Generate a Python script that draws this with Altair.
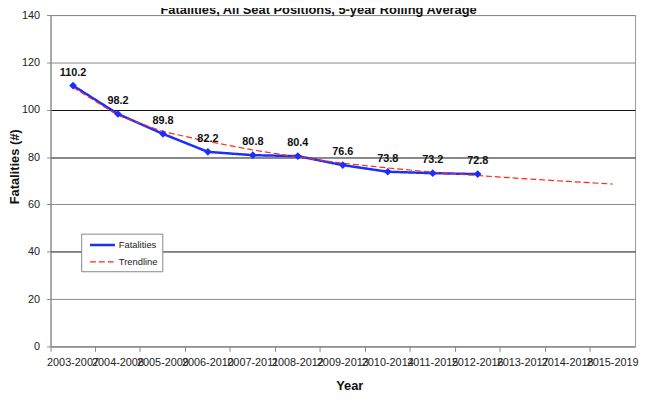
import altair as alt
import pandas as pd

periods = ["2003-2007", "2004-2008", "2005-2009", "2006-2010", "2007-2011",
           "2008-2012", "2009-2013", "2010-2014", "2011-2015", "2012-2016",
           "2013-2017", "2014-2018", "2015-2019"]
fatalities = [110.2, 98.2, 89.8, 82.2, 80.8, 80.4, 76.6, 73.8, 73.2, 72.8]
trendline = [109.5, 97.6, 90.8, 86.6, 83.0, 80.0, 77.4, 75.4, 73.6, 72.2, 70.9, 69.7, 68.6]
series_names = ["Fatalities", "Trendline"]
title_text = "Fatalities, All Seat Positions, 5-year Rolling Average"
y_ticks = [0, 20, 40, 60, 80, 100, 120, 140]

rows = []
for p, v in zip(periods, fatalities):
    rows.append({"period": p, "value": v, "series": "Fatalities", "label": f"{v:.1f}"})
for p, v in zip(periods, trendline):
    rows.append({"period": p, "value": v, "series": "Trendline", "label": ""})
df = pd.DataFrame(rows)

BLUE = "#1a2eff"
RED = "#ff2a1a"
W, H = 591, 335

x_enc = alt.X(
    "period:N",
    sort=periods,
    bandPosition=0.5,
    scale=alt.Scale(type="band", domain=periods, paddingInner=0, paddingOuter=0),
    axis=alt.Axis(
        title="Year", bandPosition=0, labelAngle=0, labelOverlap=False, labelBound=False,
        tickSize=5, tickColor="#888", domainColor="#888", labelFontSize=11,
        labelColor="#222", labelPadding=5, titleFontSize=13, titleFontWeight="bold",
        titleColor="#111", titleX=302, titleY=44, titleBaseline="alphabetic",
    ),
)
y_enc = alt.Y(
    "value:Q",
    scale=alt.Scale(domain=[0, 140], nice=False),
    axis=alt.Axis(
        title="Fatalities (#)", values=y_ticks, grid=True,
        gridColor={"condition": {"test": "indexof([40, 80, 100], datum.value) >= 0", "value": "#111"}, "value": "#8a8a8a"},
        tickSize=4, tickColor="#888", domainColor="#888", labelFontSize=11,
        labelColor="#222", labelPadding=7, titleFontSize=13, titleFontWeight="bold",
        titleColor="#111", titleX=-36, titleY=153, titleAlign="center", titleBaseline="middle",
        titleAngle=-90,
    ),
)

legend_kw = dict(
    orient="none", legendX=31, legendY=221, title=None, fillColor="white",
    strokeColor="#888", padding=4, labelFontSize=9.5, labelColor="#222",
    symbolType="M-2.1,0H2.1", symbolSize=144, symbolStrokeWidth=2, rowPadding=4.6,
    symbolOffset=10, labelOffset=9,
)

base = alt.Chart(df)

lines = base.mark_line(clip=False).encode(
    x=x_enc,
    y=y_enc,
    color=alt.Color(
        "series:N",
        scale=alt.Scale(domain=series_names, range=[BLUE, RED]),
        legend=alt.Legend(**legend_kw),
    ),
    strokeDash=alt.StrokeDash(
        "series:N",
        scale=alt.Scale(domain=series_names, range=[[1, 0], [6, 3]]),
        legend=alt.Legend(**legend_kw),
    ),
    strokeWidth=alt.StrokeWidth(
        "series:N", scale=alt.Scale(domain=series_names, range=[2.5, 1.2]), legend=None
    ),
    order=alt.Order("series:N"),
)

fat = base.transform_filter(alt.datum.series == "Fatalities")

points = fat.mark_point(shape="diamond", filled=True, color=BLUE, size=60, opacity=1).encode(
    x=x_enc, y=y_enc
)

labels = fat.mark_text(fontWeight="bold", fontSize=11, color="#111", baseline="bottom", dy=-8).encode(
    x=x_enc, y=y_enc, text="label:N"
)

title_layer = alt.Chart(pd.DataFrame({"t": [title_text]})).mark_text(
    fontWeight="bold", fontSize=13, color="#111", baseline="alphabetic", align="center"
).encode(text="t:N", x=alt.value(271), y=alt.value(-1))

chart = (
    alt.layer(lines, points, labels, title_layer)
    .properties(
        width=W, height=H,
        autosize=alt.AutoSizeParams(type="none"),
        padding={"left": 43, "top": 5, "right": 6, "bottom": 48},
    )
    .configure(font="Liberation Sans")
    .configure_view(stroke="#999", strokeWidth=1)
)

chart.save("out.html", embed_options={"renderer": "svg", "actions": False})
